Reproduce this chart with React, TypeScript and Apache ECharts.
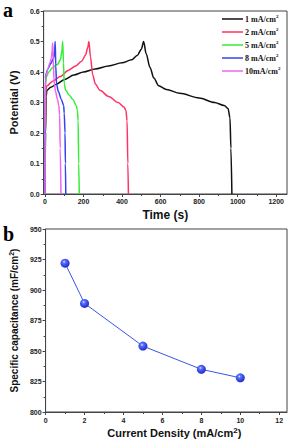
import React, { useEffect, useRef } from "react";
import * as echarts from "echarts";

// ---- Data ----
const gcdNames = ["1 mA/cm²", "2 mA/cm²", "5 mA/cm²", "8 mA/cm²", "10mA/cm²"];
const gcdColors = ["#111111", "#ff3366", "#33ee33", "#3344ee", "#ee66ee"];

const gcd1: [number, number][] = [
  [0, 0], [3, 0.2], [6, 0.32], [10, 0.34], [30, 0.35], [60, 0.36], [100, 0.375], [150, 0.39],
  [200, 0.4], [260, 0.41], [330, 0.42], [400, 0.43], [450, 0.44], [480, 0.455], [500, 0.475],
  [512, 0.5], [525, 0.46], [545, 0.415], [565, 0.38], [590, 0.355], [630, 0.343], [700, 0.33],
  [800, 0.315], [880, 0.3], [930, 0.29], [950, 0.28], [960, 0.25], [965, 0.15], [970, 0],
];
const gcd2: [number, number][] = [
  [0, 0], [2, 0.2], [4, 0.34], [10, 0.355], [40, 0.37], [80, 0.385], [120, 0.405], [160, 0.42],
  [190, 0.435], [210, 0.455], [222, 0.48], [228, 0.5], [236, 0.45], [248, 0.39], [262, 0.36],
  [285, 0.34], [330, 0.32], [380, 0.3], [410, 0.285], [420, 0.275], [426, 0.24], [430, 0.1], [433, 0],
];
const gcd5: [number, number][] = [
  [0, 0], [1, 0.2], [2, 0.36], [8, 0.385], [20, 0.4], [40, 0.415], [65, 0.425], [80, 0.44],
  [88, 0.47], [92, 0.5], [96, 0.43], [100, 0.36], [108, 0.34], [125, 0.325], [145, 0.31],
  [162, 0.29], [168, 0.275], [172, 0.24], [175, 0.1], [178, 0],
];
const gcd8: [number, number][] = [
  [0, 0], [1, 0.1], [2, 0.38], [6, 0.395], [15, 0.41], [30, 0.428], [45, 0.445], [50, 0.47],
  [53, 0.5], [56, 0.42], [60, 0.36], [70, 0.335], [85, 0.31], [97, 0.29], [100, 0.265],
  [104, 0.2], [106, 0.1], [108, 0],
];
const gcd10: [number, number][] = [
  [0, 0], [1, 0.2], [3, 0.38], [8, 0.395], [15, 0.41], [25, 0.43], [33, 0.445], [37, 0.47],
  [40, 0.495], [43, 0.44], [47, 0.37], [55, 0.335], [65, 0.31], [72, 0.29], [76, 0.26],
  [79, 0.15], [83, 0],
];
const gcdData = [gcd1, gcd2, gcd5, gcd8, gcd10];

const timeTicks = [0, 200, 400, 600, 800, 1000, 1200];
const timeMinorTicks = [100, 300, 500, 700, 900, 1100];

const currentDensity = [1, 2, 5, 8, 10];
const capacitance = [922, 889, 854, 835, 828];
const densityTicks = [0, 2, 4, 6, 8, 10, 12];
const densityMinorTicks = [1, 3, 5, 7, 9, 11];

const tickFont = {
  fontFamily: "Liberation Sans, Arial, sans-serif",
  fontWeight: "bold" as const,
  fontSize: 7,
  color: "#222",
};
const axisLineStyle = { lineStyle: { color: "#444", width: 1 } };

export default function App() {
  const ref = useRef<HTMLDivElement>(null);
  useEffect(() => {
    document.body.style.margin = "0";
    if (!ref.current) return;
    const chart = echarts.init(ref.current, null, { renderer: "svg" });

    const gcdSeries = gcdNames.map((name, i) => ({
      type: "line",
      name,
      xAxisIndex: 0,
      yAxisIndex: 0,
      data: gcdData[i],
      showSymbol: false,
      symbol: "none",
      smooth: 0.3,
      smoothMonotone: "x",
      lineStyle: { color: gcdColors[i], width: 1.5 },
      itemStyle: { color: gcdColors[i] },
      z: 3 + i,
    }));

    const option: any = {
      animation: false,
      backgroundColor: "#fff",
      grid: [
        { left: 41, top: 11, width: 246, height: 183, show: true, borderColor: "#444", borderWidth: 1, backgroundColor: "transparent" },
        { left: 43, top: 229, width: 244, height: 183, show: true, borderColor: "#444", borderWidth: 1, backgroundColor: "transparent" },
      ],
      legend: {
        data: gcdNames,
        orient: "vertical",
        left: 222,
        top: 14,
        icon: "rect",
        itemWidth: 21,
        itemHeight: 1.5,
        itemGap: 3,
        padding: 0,
        formatter: (n: string) => n.replace("²", "{sup|2}"),
        textStyle: {
          fontFamily: "Liberation Serif, Times New Roman, serif",
          fontWeight: "bold",
          fontSize: 8,
          color: "#111",
          lineHeight: 10,
          padding: [0, 0, 0, -3],
          rich: {
            sup: {
              fontFamily: "Liberation Serif, Times New Roman, serif",
              fontWeight: "bold",
              fontSize: 5,
              verticalAlign: "top",
              padding: [0, 0, 5, 0],
              color: "#111",
            },
          },
        },
      },
      xAxis: [
        {
          type: "value",
          gridIndex: 0,
          min: -7,
          max: 1256,
          name: "Time (s)",
          nameLocation: "middle",
          nameGap: 15,
          nameTextStyle: { fontFamily: "Liberation Sans, Arial, sans-serif", fontWeight: "bold", fontSize: 12, color: "#111" },
          axisLine: { show: true, onZero: false, ...axisLineStyle },
          axisTick: { show: true, inside: false, length: 3, customValues: timeTicks, lineStyle: { color: "#444" } },
          axisLabel: { ...tickFont, margin: 4, customValues: timeTicks, formatter: (v: number) => String(v) },
          splitLine: { show: false },
        },
        {
          type: "value",
          gridIndex: 0,
          min: -7,
          max: 1256,
          position: "bottom",
          axisLine: { show: false },
          axisTick: { show: true, length: 2, customValues: timeMinorTicks, lineStyle: { color: "#444" } },
          axisLabel: { show: false },
          splitLine: { show: false },
        },
        {
          type: "value",
          gridIndex: 1,
          min: 0,
          max: 12.4,
          name: "Current Density (mA/cm{sup|2})",
          nameLocation: "middle",
          nameGap: 14,
          nameTextStyle: {
            fontFamily: "Liberation Sans, Arial, sans-serif",
            fontWeight: "bold",
            fontSize: 11,
            color: "#111",
            padding: [0, 0, 0, 16],
            rich: {
              sup: { fontFamily: "Liberation Sans, Arial, sans-serif", fontWeight: "bold", fontSize: 8, color: "#111", verticalAlign: "top", padding: [0, 0, 6, 0] },
            },
          },
          axisLine: { show: true, onZero: false, ...axisLineStyle },
          axisTick: { show: true, length: 3, customValues: densityTicks, lineStyle: { color: "#444" } },
          axisLabel: { ...tickFont, margin: 5, customValues: densityTicks, formatter: (v: number) => String(v) },
          splitLine: { show: false },
        },
        {
          type: "value",
          gridIndex: 1,
          min: 0,
          max: 12.4,
          position: "bottom",
          axisLine: { show: false },
          axisTick: { show: true, length: 2, customValues: densityMinorTicks, lineStyle: { color: "#444" } },
          axisLabel: { show: false },
          splitLine: { show: false },
        },
      ],
      yAxis: [
        {
          type: "value",
          gridIndex: 0,
          min: 0,
          max: 0.6,
          interval: 0.1,
          name: "Potential (V)",
          nameLocation: "middle",
          nameGap: 24,
          nameTextStyle: { fontFamily: "Liberation Sans, Arial, sans-serif", fontWeight: "bold", fontSize: 11, color: "#111" },
          axisLine: { show: true, onZero: false, ...axisLineStyle },
          axisTick: { show: true, length: 3, lineStyle: { color: "#444" } },
          minorTick: { show: true, splitNumber: 2, length: 2, lineStyle: { color: "#444" } },
          axisLabel: { ...tickFont, margin: 4, formatter: (v: number) => v.toFixed(1) },
          splitLine: { show: false },
        },
        {
          type: "value",
          gridIndex: 1,
          min: 800,
          max: 950,
          interval: 25,
          name: "Specific capacitance (mF/cm{sup|2})",
          nameLocation: "middle",
          nameGap: 24,
          nameTextStyle: {
            fontFamily: "Liberation Sans, Arial, sans-serif",
            fontWeight: "bold",
            fontSize: 10,
            color: "#111",
            rich: {
              sup: { fontFamily: "Liberation Sans, Arial, sans-serif", fontWeight: "bold", fontSize: 7, color: "#111", verticalAlign: "top", padding: [0, 0, 5, 0] },
            },
          },
          axisLine: { show: true, onZero: false, ...axisLineStyle },
          axisTick: { show: true, length: 3, lineStyle: { color: "#444" } },
          minorTick: { show: true, splitNumber: 2, length: 2, lineStyle: { color: "#444" } },
          axisLabel: { ...tickFont, margin: 4 },
          splitLine: { show: false },
        },
      ],
      graphic: [
        { type: "text", left: 3, top: 0, style: { text: "a", font: "bold 20px 'Liberation Serif', serif", fill: "#000" } },
        { type: "text", left: 3, top: 224, style: { text: "b", font: "bold 20px 'Liberation Serif', serif", fill: "#000" } },
      ],
      series: [
        ...gcdSeries,
        {
          type: "line",
          name: "Capacitance",
          xAxisIndex: 2,
          yAxisIndex: 1,
          data: currentDensity.map((x, i) => [x, capacitance[i]]),
          symbol: "circle",
          symbolSize: 9,
          lineStyle: { color: "#3b55e6", width: 1 },
          itemStyle: {
            color: new echarts.graphic.RadialGradient(0.4, 0.35, 0.65, [
              { offset: 0, color: "#e8ecff" },
              { offset: 0.25, color: "#5a72ff" },
              { offset: 1, color: "#1a28c8" },
            ]),
            borderWidth: 0,
          },
          z: 5,
        },
      ],
    };
    chart.setOption(option);
    return () => chart.dispose();
  }, []);
  return <div ref={ref} style={{ position: "absolute", left: 0, top: 0, width: 293, height: 442 }} />;
}
